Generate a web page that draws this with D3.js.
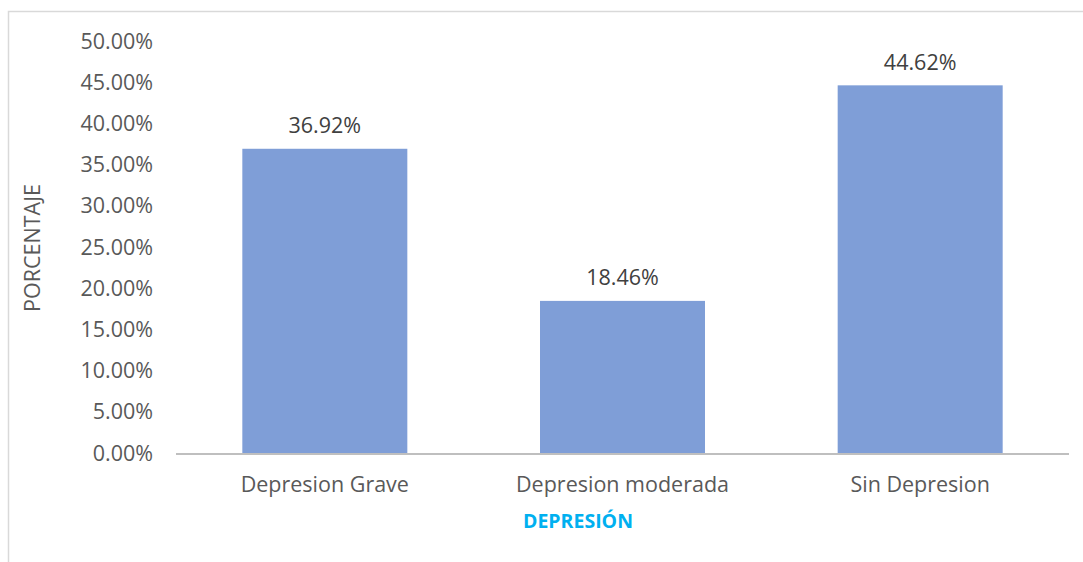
<!DOCTYPE html>
<html>
<head>
<meta charset="utf-8">
<script src="https://cdn.jsdelivr.net/npm/d3@7"></script>
<style>
  body { margin: 0; background: #fff; }
  text { font-family: "Open Sans", sans-serif; }
</style>
</head>
<body>
<script>
const categories = ['Depresion Grave', 'Depresion moderada', 'Sin Depresion'];
const values = [36.92, 18.46, 44.62];
const yTicks = [0, 5, 10, 15, 20, 25, 30, 35, 40, 45, 50];

const W = 1083, H = 562;
const m = { left: 176, right: 14, top: 41, bottom: 109 };

const svg = d3.select('body').append('svg')
    .attr('width', W)
    .attr('height', H);

// chart border
svg.append('rect')
    .attr('x', 8.5).attr('y', 11.5)
    .attr('width', W + 20).attr('height', H + 20)
    .attr('fill', 'none')
    .attr('stroke', '#d9d9d9')
    .attr('stroke-width', 1.5);

const x = d3.scaleBand()
    .domain(categories)
    .range([m.left, W - m.right])
    .paddingInner(0.4457)
    .paddingOuter(0.2228);

const y = d3.scaleLinear()
    .domain([0, 50])
    .range([H - m.bottom, m.top]);

// y tick labels
svg.append('g')
    .selectAll('text')
    .data(yTicks)
    .join('text')
    .attr('x', 153)
    .attr('y', d => y(d))
    .attr('dy', '0.35em')
    .attr('text-anchor', 'end')
    .attr('fill', '#595959')
    .style('font-size', '21.5px')
    .text(d => d.toFixed(2) + '%');

// bars
svg.append('g')
    .selectAll('rect')
    .data(values)
    .join('rect')
    .attr('x', (d, i) => x(categories[i]))
    .attr('y', d => y(d))
    .attr('width', x.bandwidth())
    .attr('height', d => y(0) - y(d))
    .attr('fill', '#7f9ed7');

// data labels
svg.append('g')
    .selectAll('text')
    .data(values)
    .join('text')
    .attr('x', (d, i) => x(categories[i]) + x.bandwidth() / 2)
    .attr('y', d => y(d) - 23)
    .attr('dy', '0.35em')
    .attr('text-anchor', 'middle')
    .attr('fill', '#404040')
    .style('font-size', '21.5px')
    .text(d => d.toFixed(2) + '%');

// x axis line
svg.append('line')
    .attr('x1', m.left).attr('x2', W - m.right)
    .attr('y1', y(0) + 1).attr('y2', y(0) + 1)
    .attr('stroke', '#bfbfbf')
    .attr('stroke-width', 2);

// category labels
svg.append('g')
    .selectAll('text')
    .data(categories)
    .join('text')
    .attr('x', d => x(d) + x.bandwidth() / 2)
    .attr('y', 484)
    .attr('dy', '0.35em')
    .attr('text-anchor', 'middle')
    .attr('fill', '#595959')
    .style('font-size', '21.5px')
    .text(d => d);

// axis titles
svg.append('text')
    .attr('transform', 'translate(32,248) rotate(-90)')
    .attr('dy', '0.35em')
    .attr('text-anchor', 'middle')
    .attr('fill', '#595959')
    .style('font-size', '21.5px')
    .text('PORCENTAJE');

svg.append('text')
    .attr('x', 578)
    .attr('y', 521)
    .attr('dy', '0.35em')
    .attr('text-anchor', 'middle')
    .attr('fill', '#00b0f0')
    .style('font-size', '19.5px')
    .style('font-weight', 'bold')
    .text('DEPRESIÓN');
</script>
</body>
</html>
